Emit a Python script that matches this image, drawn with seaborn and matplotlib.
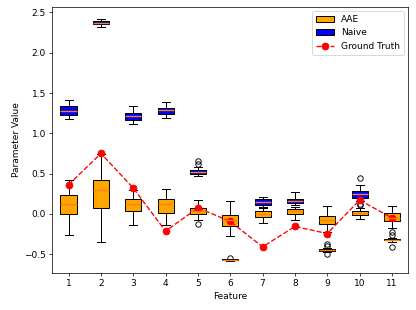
import numpy as np
import pandas as pd
import matplotlib
matplotlib.use("Agg")
import matplotlib.pyplot as plt
import seaborn as sns

# ----------------------------------------------------------
# Values
# ----------------------------------------------------------
features = [1, 2, 3, 4, 5, 6, 7, 8, 9, 10, 11]

ground_truth = [0.36, 0.75, 0.32, -0.215, 0.075, -0.095, -0.41, -0.157, -0.245, 0.17, -0.05]

# AAE box summaries (lower whisker, q1, median, q3, upper whisker) and outliers
aae_lo  = [-0.265, -0.35, -0.145, -0.14, -0.075, -0.27, -0.115, -0.075, -0.22, -0.07, -0.17]
aae_q1  = [0.0, 0.075, 0.035, 0.005, 0.0, -0.155, -0.04, 0.0, -0.13, -0.015, -0.083]
aae_med = [0.12, 0.295, 0.12, 0.12, 0.04, -0.08, -0.005, 0.035, -0.08, 0.015, -0.05]
aae_q3  = [0.235, 0.415, 0.18, 0.18, 0.075, -0.01, 0.03, 0.055, -0.03, 0.035, 0.01]
aae_hi  = [0.415, 0.74, 0.29, 0.31, 0.175, 0.165, 0.075, 0.08, 0.095, 0.07, 0.095]
aae_out = [[], [], [], [], [-0.13], [], [], [], [], [0.112, 0.125], []]

# Naive box summaries and outliers
naive_lo  = [1.18, 2.315, 1.11, 1.19, 0.47, -0.582, 0.09, 0.105, -0.47, 0.16, -0.345]
naive_q1  = [1.23, 2.353, 1.168, 1.24, 0.5, -0.575, 0.115, 0.13, -0.46, 0.2, -0.33]
naive_med = [1.28, 2.374, 1.21, 1.29, 0.524, -0.57, 0.15, 0.158, -0.45, 0.24, -0.32]
naive_q3  = [1.34, 2.394, 1.247, 1.314, 0.545, -0.565, 0.188, 0.19, -0.44, 0.28, -0.31]
naive_hi  = [1.415, 2.42, 1.334, 1.39, 0.58, -0.56, 0.208, 0.267, -0.43, 0.36, -0.295]
naive_out = [[], [], [], [], [0.62, 0.65], [-0.545], [], [], [-0.38, -0.40, -0.50], [0.44],
             [-0.225, -0.265, -0.415]]


# Build a small sample whose box statistics equal the values read above
def make_sample(lo, q1, med, q3, hi, out):
    low_out = sorted(v for v in out if v < q1)
    high_out = sorted(v for v in out if v > q3)
    m = max(len(low_out), len(high_out)) + 1
    k = m + 2
    low = low_out + [lo] * (m - len(low_out))
    high = [hi] * (m - len(high_out)) + high_out
    return low + [q1] * k + [med] + [q3] * k + high


rows = []
for method, stats in [("AAE", (aae_lo, aae_q1, aae_med, aae_q3, aae_hi, aae_out)),
                      ("Naive", (naive_lo, naive_q1, naive_med, naive_q3, naive_hi, naive_out))]:
    for i, f in enumerate(features):
        for v in make_sample(*(s[i] for s in stats)):
            rows.append({"Feature": f, "Value": v, "Method": method})
df = pd.DataFrame(rows)

# ----------------------------------------------------------
# Plot
# ----------------------------------------------------------
fig, ax = plt.subplots(figsize=(6.4, 4.77), dpi=65)

sns.boxplot(data=df, x="Feature", y="Value", hue="Method",
            hue_order=["AAE", "Naive"],
            palette={"AAE": "orange", "Naive": "blue"},
            native_scale=True, dodge=False, width=0.5, saturation=1,
            linecolor="black", linewidth=1.1,
            medianprops={"color": "#ff7f0e", "linewidth": 1.5},
            flierprops={"marker": "o", "markerfacecolor": "none",
                        "markeredgecolor": "black", "markersize": 6},
            ax=ax)

ax.plot(features, ground_truth, color="red", linestyle="--", marker="o",
        markersize=7.5, linewidth=1.5, label="Ground Truth")

ax.set_xticks(features)
ax.set_xlim(0.5, 11.5)
ax.set_xlabel("Feature")
ax.set_ylabel("Parameter Value")

handles, labels = ax.get_legend_handles_labels()
ax.legend(handles, labels, loc="upper right")

fig.subplots_adjust(left=0.126, right=0.981, bottom=0.12, top=0.978)
fig.savefig("out.png", dpi=65)
